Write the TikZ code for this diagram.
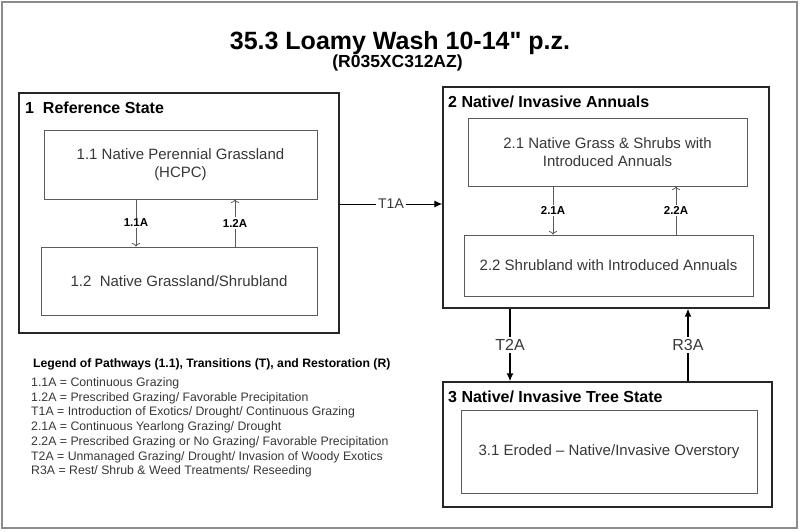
\documentclass[tikz,border=0pt]{standalone}
\usepackage{fontspec}
\setmainfont{Liberation Sans}[Ligatures=TeXOff]
\usepackage{tikz}
\usetikzlibrary{arrows.meta}
\usetikzlibrary{positioning}
\definecolor{textgray}{RGB}{55,55,55}
\definecolor{linegray}{RGB}{90,90,90}
\definecolor{framegray}{RGB}{140,140,140}

\begin{document}
\begin{tikzpicture}[x=1pt,y=-1pt]
\tikzset{
    state/.style={
              draw=black!85,
                   line width=1.4pt,
                   inner sep=0pt
    },
    phase/.style={
              draw=linegray,
                   line width=0.9pt,
                   text=textgray,
                   align=center,
                   font=\fontsize{15}{18}\selectfont
    },
    head/.style={anchor=base west, inner sep=0pt, font=\bfseries\fontsize{16}{19}\selectfont},
    legend/.style={anchor=base west, inner sep=0pt, text=textgray, font=\fontsize{12.3}{14}\selectfont},
    pathway/.style={draw=linegray, line width=0.8pt, -{To[length=3.5pt,width=8pt]}},
    plabel/.style={fill=white, inner sep=1.5pt, font=\bfseries\fontsize{11.5}{13}\selectfont},
    transition/.style={draw=black, line width=1.4pt, -{Latex[length=8pt,width=7pt]}},
    tlabel/.style={fill=white, inner sep=2pt, text=textgray}
}
    \useasboundingbox (0,0) rectangle (800,531);
    \draw[framegray, line width=2pt] (2,2) rectangle (797,528);

    \node (title)[anchor=base, font=\bfseries\fontsize{25}{30}\selectfont] at (400,49) {35.3 Loamy Wash 10-14" p.z.};
    \node (code)[anchor=base, font=\bfseries\fontsize{17.5}{21}\selectfont] at (397.5,67) {(R035XC312AZ)};

    \node (S1)[state, minimum width=320pt, minimum height=240pt] at (179,213) {};
    \node (S2)[state, minimum width=326pt, minimum height=221pt] at (606,197.5) {};
    \node (S3)[state, minimum width=329pt, minimum height=125pt] at (607.5,444.5) {};

    \node (H1)[head] at (25,113) {1\ \ Reference State};
    \node (H2)[head] at (448,107) {2 Native/ Invasive Annuals};
    \node (H3)[head] at (448,402) {3 Native/ Invasive Tree State};

    \node (P11)[phase, minimum width=273pt, minimum height=69pt] at (180.5,164.5) {1.1 Native Perennial Grassland\\(HCPC)};
    \node (P12)[phase, minimum width=276pt, minimum height=68pt] at (179,281) {1.2\ \ Native Grassland/Shrubland};
    \node (P21)[phase, minimum width=279pt, minimum height=68pt] at (607.5,152) {2.1 Native Grass \& Shrubs with\\Introduced Annuals};
    \node (P22)[phase, minimum width=289pt, minimum height=61pt] at (608.5,265.5) {2.2 Shrubland with Introduced Annuals};
    \node (P31)[phase, minimum width=296pt, minimum height=83pt] at (609,451.5) {3.1 Eroded – Native/Invasive Overstory};

    \coordinate (a11) at (136,0);
    \coordinate (a12) at (235,0);
    \coordinate (a21) at (553,0);
    \coordinate (a22) at (676,0);
    \coordinate (t1) at (0,204);
    \coordinate (t2) at (510,0);
    \coordinate (r3) at (688,0);

    \draw[pathway] (P11.south -| a11) -- node[plabel] {1.1A} (P12.north -| a11);
    \draw[pathway] (P12.north -| a12) -- node[plabel] {1.2A} (P11.south -| a12);
    \draw[pathway] (P21.south -| a21) -- node[plabel] {2.1A} (P22.north -| a21);
    \draw[pathway] (P22.north -| a22) -- node[plabel] {2.2A} (P21.south -| a22);

    \draw[transition, line width=1pt] (S1.east |- t1) -- node[tlabel, font=\fontsize{14}{16}\selectfont] {T1A} (S2.west |- t1);
    \draw[transition] (S2.south -| t2) -- node[tlabel, font=\fontsize{16}{19}\selectfont] {T2A} (S3.north -| t2);
    \draw[transition] (S3.north -| r3) -- node[tlabel, font=\fontsize{16}{19}\selectfont] {R3A} (S2.south -| r3);

    \node (L0)[legend, text=black, font=\bfseries\fontsize{12.2}{14}\selectfont] at (33,367.5) {Legend of Pathways (1.1), Transitions (T), and Restoration (R)};
    \node (L1)[legend] at (31,386.5) {1.1A = Continuous Grazing};
    \node (L2)[legend] at (31,401) {1.2A = Prescribed Grazing/ Favorable Precipitation};
    \node (L3)[legend] at (31,415.5) {T1A = Introduction of Exotics/ Drought/ Continuous Grazing};
    \node (L4)[legend] at (31,430.5) {2.1A = Continuous Yearlong Grazing/ Drought};
    \node (L5)[legend] at (31,445) {2.2A = Prescribed Grazing or No Grazing/ Favorable Precipitation};
    \node (L6)[legend] at (31,460) {T2A = Unmanaged Grazing/ Drought/ Invasion of Woody Exotics};
    \node (L7)[legend] at (31,474.5) {R3A = Rest/ Shrub \& Weed Treatments/ Reseeding};

\end{tikzpicture}
\end{document}
